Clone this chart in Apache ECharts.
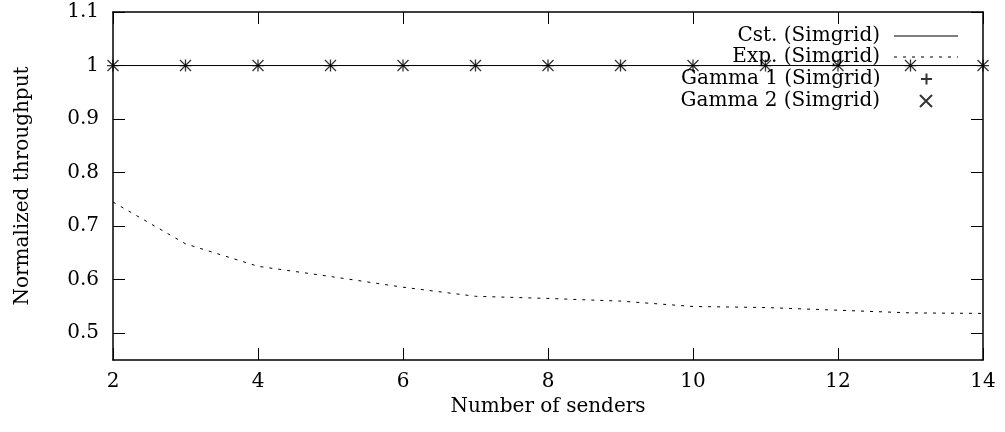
<!DOCTYPE html>
<html>
<head>
<meta charset="utf-8">
<script src="https://cdn.jsdelivr.net/npm/echarts@6/dist/echarts.min.js"></script>
<style>
  html, body { margin: 0; padding: 0; background: #fff; }
  #chart { width: 1005px; height: 432px; }
</style>
</head>
<body>
<div id="chart"></div>
<script>
// number of senders
var senders = [2, 3, 4, 5, 6, 7, 8, 9, 10, 11, 12, 13, 14];
// normalized throughput per distribution
var cstVals = [1, 1, 1, 1, 1, 1, 1, 1, 1, 1, 1, 1, 1];
var expVals = [0.745, 0.667, 0.625, 0.606, 0.586, 0.569, 0.565, 0.560, 0.550, 0.548, 0.543, 0.538, 0.537];
var gamma1Vals = [1, 1, 1, 1, 1, 1, 1, 1, 1, 1, 1, 1, 1];
var gamma2Vals = [1, 1, 1, 1, 1, 1, 1, 1, 1, 1, 1, 1, 1];
// y tick labels
var yTicks = [0.5, 0.6, 0.7, 0.8, 0.9, 1, 1.1];

var names = ['Cst. (Simgrid)', 'Exp. (Simgrid)', 'Gamma 1 (Simgrid)', 'Gamma 2 (Simgrid)'];

function pairs(vals) {
  return senders.map(function (x, i) { return [x, vals[i]]; });
}

var font = 'DejaVu Serif';
var fs = 20;
var PLUS = 'path://M5,0L5,10M0,5L10,5';
var CROSS = 'path://M0,0L10,10M10,0L0,10';
// legend samples for the two lines
var SOLID = 'path://M0,0L64,0L64,1L0,1Z';
var DASHED = 'path://M0,0h3v1h-3zM9,0h3v1h-3zM18,0h3v1h-3zM27,0h3v1h-3zM36,0h3v1h-3zM45,0h3v1h-3zM54,0h3v1h-3zM63,0h1v1h-1z';

var axisLine = { lineStyle: { color: '#000', width: 1.5 } };
var tick = { inside: true, length: 12, lineStyle: { color: '#000', width: 1 } };

function legendAt(name, center, icon, h, right) {
  return {
    data: [name],
    orient: 'vertical',
    right: right,
    top: center - 9,
    padding: 0,
    align: 'right',
    icon: icon,
    itemWidth: 64,
    itemHeight: h,
    selectedMode: false,
    textStyle: { fontFamily: font, fontSize: fs, color: '#000', lineHeight: 20, padding: [0, 9, 0, 0] }
  };
}

var chart = echarts.init(document.getElementById('chart'));
chart.setOption({
  backgroundColor: '#fff',
  animation: false,
  grid: { left: 113, right: 22, top: 12, bottom: 72 },
  legend: [
    legendAt(names[0], 35, SOLID, 1.2, 47),
    legendAt(names[1], 56, DASHED, 1.2, 47),
    legendAt(names[2], 78, undefined, 11, 72),
    legendAt(names[3], 100, undefined, 12, 72)
  ],
  xAxis: [{
    type: 'value', min: 2, max: 14, interval: 2,
    name: 'Number of senders', nameLocation: 'middle', nameGap: 34,
    nameTextStyle: { fontFamily: font, fontSize: fs, color: '#000' },
    axisLine: axisLine, axisTick: tick, splitLine: { show: false },
    axisLabel: { fontFamily: font, fontSize: fs, color: '#000', margin: 12 }
  }, {
    type: 'value', position: 'top', min: 2, max: 14, interval: 2,
    axisLine: axisLine, axisTick: tick, splitLine: { show: false },
    axisLabel: { show: false }
  }],
  yAxis: [{
    type: 'value', min: 0.45, max: 1.1,
    name: 'Normalized throughput', nameLocation: 'middle', nameGap: 80,
    nameTextStyle: { fontFamily: font, fontSize: fs, color: '#000' },
    axisLine: axisLine, splitLine: { show: false },
    axisTick: Object.assign({ customValues: yTicks }, tick),
    axisLabel: {
      customValues: yTicks, fontFamily: font, fontSize: fs, color: '#000', margin: 14,
      formatter: function (v) { return String(+(+v).toFixed(2)); }
    }
  }, {
    type: 'value', position: 'right', min: 0.45, max: 1.1,
    axisLine: axisLine, splitLine: { show: false },
    axisTick: Object.assign({ customValues: yTicks }, tick),
    axisLabel: { show: false, customValues: yTicks }
  }],
  series: [{
    name: names[0], type: 'line', data: pairs(cstVals),
    symbol: 'none', lineStyle: { color: '#000', width: 1 }, itemStyle: { color: '#000' }
  }, {
    name: names[1], type: 'line', data: pairs(expVals),
    symbol: 'none', lineStyle: { color: '#000', width: 1, type: [3, 6] }, itemStyle: { color: '#000' }
  }, {
    name: names[2], type: 'scatter', data: pairs(gamma1Vals), clip: false,
    symbol: PLUS, symbolSize: 12, symbolKeepAspect: true,
    itemStyle: { color: 'rgba(0,0,0,0)', borderColor: '#000', borderWidth: 1.3 }
  }, {
    name: names[3], type: 'scatter', data: pairs(gamma2Vals), clip: false,
    symbol: CROSS, symbolSize: 11, symbolKeepAspect: true,
    itemStyle: { color: 'rgba(0,0,0,0)', borderColor: '#000', borderWidth: 1.3 }
  }]
});
</script>
</body>
</html>
